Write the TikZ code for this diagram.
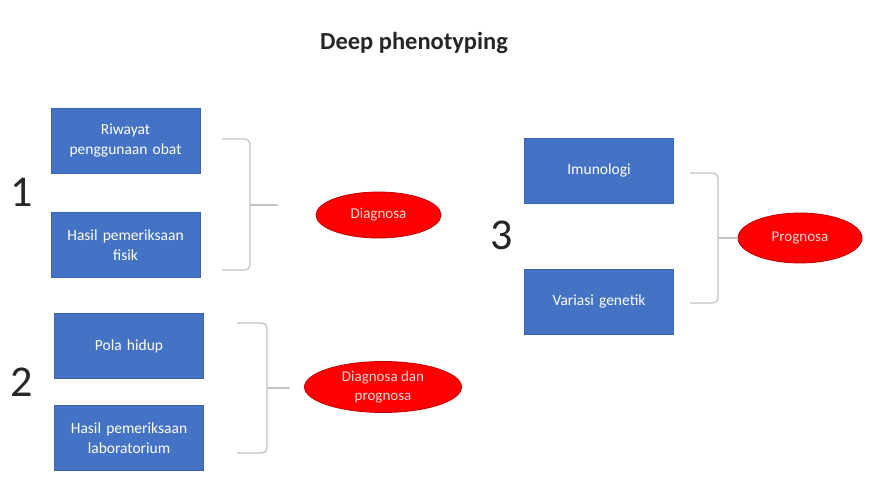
\documentclass[tikz,border=0pt]{standalone}
\usepackage{fontspec}
\setmainfont{Carlito}
\usetikzlibrary{shapes.geometric}
\definecolor{boxblue}{HTML}{4472C4}
\definecolor{boxedge}{HTML}{3A65B0}
\definecolor{outred}{HTML}{FF0000}
\definecolor{outedge}{HTML}{C00000}
\definecolor{outtext}{HTML}{FFD6D6}
\definecolor{bracegray}{HTML}{C4C4C4}
\begin{document}
\begin{tikzpicture}[x=1pt,y=-1pt,
  box/.style={draw=boxedge, line width=0.8pt, fill=boxblue, text=white,
    minimum width=149pt, minimum height=65pt, inner sep=0pt,
    align=center, text width=142pt, font=\fontsize{15.5}{20}\selectfont},
  outcome/.style={ellipse, fill=outred, draw=outedge, line width=0.8pt,
    text=outtext, align=center, inner sep=0pt, font=\fontsize{15}{19}\selectfont},
  brace/.style={draw=bracegray, line width=1.3pt, rounded corners=5pt},
  num/.style={font=\fontsize{44}{44}\selectfont, text=black!85},
  heading/.style={font=\bfseries\fontsize{24.5}{28}\selectfont, text=black!85}]

\useasboundingbox[fill=white] (0,0) rectangle (870,492);

% title
\node[heading] (title) at (414,43) {Deep phenotyping};

% group 1
\node[num] (n1) at (22,192) {1};
\node[box] (riwayat) at (125.5,140.5) {Riwayat\\penggunaan obat};
\node[box] (fisik) at (125.5,245) {Hasil pemeriksaan\\fisik};
\node[outcome, minimum width=125pt, minimum height=46pt] (diag) at (378.5,215) {Diagnosa};
\coordinate (b1t) at (222,139);
\coordinate (b1b) at (222,270);
\coordinate (b1m) at (250,205);
\coordinate (b1tip) at (278,205);
\draw[brace] (b1t) -- (b1m |- b1t) -- (b1m |- b1b) -- (b1b);
\draw[brace] (b1m) -- (b1tip);

% group 2
\node[num] (n2) at (22,382) {2};
\node[box] (pola) at (129,346) {Pola hidup};
\node[box] (lab) at (129,438) {Hasil pemeriksaan\\laboratorium};
\node[outcome, minimum width=157pt, minimum height=51pt] (diagprog) at (383,387) {Diagnosa dan\\prognosa};
\coordinate (b2t) at (237,323);
\coordinate (b2b) at (237,453);
\coordinate (b2m) at (267,388);
\coordinate (b2tip) at (290,388);
\draw[brace] (b2t) -- (b2m |- b2t) -- (b2m |- b2b) -- (b2b);
\draw[brace] (b2m) -- (b2tip);

% group 3
\node[num] (n3) at (502,235) {3};
\node[box] (imun) at (599,170.5) {Imunologi};
\node[box] (genetik) at (599,301.5) {Variasi genetik};
\node[outcome, minimum width=124pt, minimum height=50pt] (prog) at (800,238) {Prognosa};
\coordinate (b3t) at (690,173);
\coordinate (b3b) at (690,303);
\coordinate (b3m) at (718,238);
\coordinate (b3tip) at (737,238);
\draw[brace] (b3t) -- (b3m |- b3t) -- (b3m |- b3b) -- (b3b);
\draw[brace] (b3m) -- (b3tip);

\end{tikzpicture}
\end{document}
